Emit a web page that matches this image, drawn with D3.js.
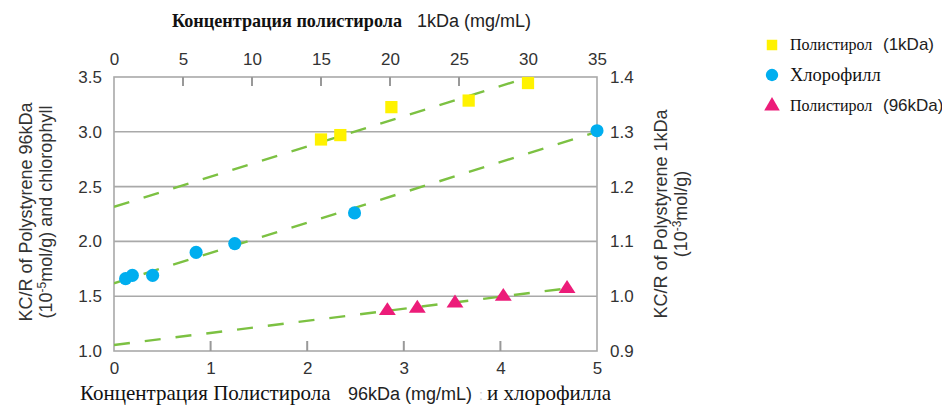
<!DOCTYPE html>
<html><head><meta charset="utf-8">
<script src="https://cdn.jsdelivr.net/npm/d3@7/dist/d3.min.js"></script>
<style>
html,body{margin:0;padding:0;background:#fff;}
svg{display:block;}
.sans{font-family:"Liberation Sans",Arial,sans-serif;}
.serif{font-family:"Liberation Serif","Times New Roman",serif;}
</style></head>
<body>
<svg id="chart" width="942" height="405"></svg>
<script>
// ---- data ----
const bottomTicks = [0,1,2,3,4,5];
const topTicks = [0,5,10,15,20,25,30,35];
const leftTicks = ["1.0","1.5","2.0","2.5","3.0","3.5"];
const rightTicks = ["0.9","1.0","1.1","1.2","1.3","1.4"];

// Polystyrene 1kDa: x = concentration (top axis, mg/mL), y = KC/R (right axis)
const ps1kX = [15.0, 16.4, 20.1, 25.7, 30.0];
const ps1kY = [1.286, 1.294, 1.345, 1.357, 1.389];
// Chlorophyll: bottom axis, left axis
const chlX = [0.12, 0.19, 0.40, 0.85, 1.25, 2.49, 5.0];
const chlY = [1.66, 1.69, 1.69, 1.90, 1.98, 2.26, 3.01];
// Polystyrene 96kDa: bottom axis, left axis
const ps96X = [2.83, 3.14, 3.53, 4.03, 4.69];
const ps96Y = [1.367, 1.389, 1.437, 1.498, 1.569];

// fitted trend lines (end points)
const trend1k = [[0, 1.163], [30.1, 1.40]];
const trendChl = [[0, 1.618], [5.0, 3.0]];
const trend96 = [[0, 1.055], [4.75, 1.578]];

const legendLabels = [
  {serif:"Полистирол", sans:"(1kDa)"},
  {serif:"Хлорофилл", sans:""},
  {serif:"Полистирол", sans:"(96kDa)"}
];

// ---- layout ----
const L = 114, R = 597, T = 77, B = 351;
const colYellow = "#FFF200", colBlue = "#00AEEF", colPink = "#EC1C79", colGreen = "#7CC142";
const axisCol = "#a9a9a9", textCol = "#333";

const svg = d3.select("#chart");
const xB = d3.scaleLinear().domain([0,5]).range([L,R]);
const xT = d3.scaleLinear().domain([0,35]).range([L,R]);
const yL = d3.scaleLinear().domain([1.0,3.5]).range([B,T]);
const yR = d3.scaleLinear().domain([0.9,1.4]).range([B,T]);

// gridlines
svg.append("g").selectAll("line").data(leftTicks.map(Number).filter(v=>v>1.0 && v<3.5))
  .join("line").attr("x1",L).attr("x2",R).attr("y1",d=>yL(d)).attr("y2",d=>yL(d))
  .attr("stroke",axisCol).attr("stroke-width",1.6);

// border
svg.append("rect").attr("x",L).attr("y",T).attr("width",R-L).attr("height",B-T)
  .attr("fill","none").attr("stroke",axisCol).attr("stroke-width",1.6);

// axes
const gB = svg.append("g").attr("transform",`translate(0,${B})`)
  .call(d3.axisBottom(xB).tickValues(bottomTicks).tickFormat(d3.format("d")).tickSize(0).tickPadding(11));
const gT = svg.append("g").attr("transform",`translate(0,${T})`)
  .call(d3.axisTop(xT).tickValues(topTicks).tickFormat(d3.format("d")).tickSize(0).tickPadding(12));
const gL = svg.append("g").attr("transform",`translate(${L},0)`)
  .call(d3.axisLeft(yL).tickValues(leftTicks.map(Number)).tickFormat((d,i)=>leftTicks[i]).tickSize(0).tickPadding(12));
const gR = svg.append("g").attr("transform",`translate(${R},0)`)
  .call(d3.axisRight(yR).tickValues(rightTicks.map(Number)).tickFormat((d,i)=>rightTicks[i]).tickSize(0).tickPadding(13));
[gB,gT,gL,gR].forEach(g=>{
  g.select(".domain").remove();
  g.selectAll("text").attr("class","sans").style("font-family","'Liberation Sans',Arial,sans-serif")
   .style("font-size","17px").attr("fill",textCol);
});

// inner ticks
svg.append("g").selectAll("line").data(bottomTicks.filter(d=>d>0&&d<5)).join("line")
  .attr("x1",d=>xB(d)).attr("x2",d=>xB(d)).attr("y1",B).attr("y2",B-10)
  .attr("stroke","#999").attr("stroke-width",2);
svg.append("g").selectAll("line").data(topTicks.filter(d=>d>0&&d<35)).join("line")
  .attr("x1",d=>xT(d)).attr("x2",d=>xT(d)).attr("y1",T).attr("y2",T+9)
  .attr("stroke","#999").attr("stroke-width",2);

// trend lines
svg.append("clipPath").attr("id","pc").append("rect")
  .attr("x",L).attr("y",T).attr("width",R-L).attr("height",B-T);
const gl = svg.append("g").attr("clip-path","url(#pc)");
const dash = "16,15";
gl.append("path").datum(trend1k).attr("d",d3.line().x(d=>xT(d[0])).y(d=>yR(d[1])))
  .attr("stroke",colGreen).attr("stroke-width",2.4).attr("stroke-dasharray",dash).attr("fill","none");
gl.append("path").datum(trendChl).attr("d",d3.line().x(d=>xB(d[0])).y(d=>yL(d[1])))
  .attr("stroke",colGreen).attr("stroke-width",2.4).attr("stroke-dasharray",dash).attr("fill","none");
gl.append("path").datum(trend96).attr("d",d3.line().x(d=>xB(d[0])).y(d=>yL(d[1])))
  .attr("stroke",colGreen).attr("stroke-width",2.4).attr("stroke-dasharray",dash).attr("fill","none");

// markers
const sq = d3.symbol().type(d3.symbolSquare).size(150);
const ci = d3.symbol().type(d3.symbolCircle).size(135);
const tr = d3.symbol().type(d3.symbolTriangle).size(112);
svg.append("g").selectAll("path").data(ps1kX.map((x,i)=>[x,ps1kY[i]])).join("path")
  .attr("d",sq).attr("transform",d=>`translate(${xT(d[0])},${yR(d[1])})`).attr("fill",colYellow);
svg.append("g").selectAll("path").data(chlX.map((x,i)=>[x,chlY[i]])).join("path")
  .attr("d",ci).attr("transform",d=>`translate(${xB(d[0])},${yL(d[1])})`).attr("fill",colBlue);
svg.append("g").selectAll("path").data(ps96X.map((x,i)=>[x,ps96Y[i]])).join("path")
  .attr("d",tr).attr("transform",d=>`translate(${xB(d[0])},${yL(d[1])}) scale(1.05,0.92)`).attr("fill",colPink);

// top title
const tt = svg.append("text").attr("y",27).attr("fill","#111");
tt.append("tspan").attr("x",172).attr("class","serif").style("font-weight","bold").style("font-size","19.5px").attr("textLength",230).attr("lengthAdjust","spacingAndGlyphs").text("Концентрация полистирола");
tt.append("tspan").attr("x",417).attr("class","sans").style("font-size","18px").attr("fill","#222").text("1kDa (mg/mL)");

// bottom title
const bt = svg.append("text").attr("x",80).attr("y",400).attr("fill","#111");
bt.append("tspan").attr("class","serif").style("font-size","21px").text("Концентрация Полистирола");
bt.append("tspan").attr("class","sans").style("font-size","18px").attr("fill","#222").attr("x",348).text("96kDa (mg/mL)");
bt.append("tspan").attr("class","sans").style("font-size","14px").attr("fill","#ccc").attr("x",479).text(":");
bt.append("tspan").attr("class","serif").style("font-size","21px").attr("x",487).text("и хлорофилла");

// left y label
const ly = svg.append("g").attr("transform","translate(32,212) rotate(-90)");
ly.append("text").attr("class","sans").attr("text-anchor","middle").style("font-size","18px").attr("fill",textCol)
  .text("KC/R of Polystyrene 96kDa");
const ly2 = ly.append("text").attr("class","sans").attr("text-anchor","middle").attr("y",20).style("font-size","18px").attr("fill",textCol);
ly2.append("tspan").text("(10");
ly2.append("tspan").attr("dy",-6).style("font-size","12px").text("-5");
ly2.append("tspan").attr("dy",6).text("mol/g) and chlorophyll");

// right y label
const ry = svg.append("g").attr("transform","translate(667,214) rotate(-90)");
ry.append("text").attr("class","sans").attr("text-anchor","middle").style("font-size","18px").attr("fill",textCol)
  .text("KC/R of Polystyrene 1kDa");
const ry2 = ry.append("text").attr("class","sans").attr("text-anchor","middle").attr("y",20).style("font-size","18px").attr("fill",textCol);
ry2.append("tspan").text("(10");
ry2.append("tspan").attr("dy",-6).style("font-size","12px").text("-3");
ry2.append("tspan").attr("dy",6).text("mol/g)");

// legend
const lg = svg.append("g");
const legY = [45, 75, 106];
const legCols = [colYellow, colBlue, colPink];
const legSym = [d3.symbol().type(d3.symbolSquare).size(110), d3.symbol().type(d3.symbolCircle).size(120), d3.symbol().type(d3.symbolTriangle).size(105)];
legY.forEach((y,i)=>{
  lg.append("path").attr("d", legSym[i]()).attr("transform",`translate(772,${y})`).attr("fill",legCols[i]);
  const t = lg.append("text").attr("x",790).attr("y", y + (i===1?6:5)).attr("fill","#111");
  t.append("tspan").attr("class","serif").style("font-size", i===1 ? "18.5px" : "16px").text(legendLabels[i].serif);
  if (legendLabels[i].sans) t.append("tspan").attr("class","sans").attr("x",883).style("font-size","17px").attr("fill","#222").text(legendLabels[i].sans);
});
</script>
</body></html>
